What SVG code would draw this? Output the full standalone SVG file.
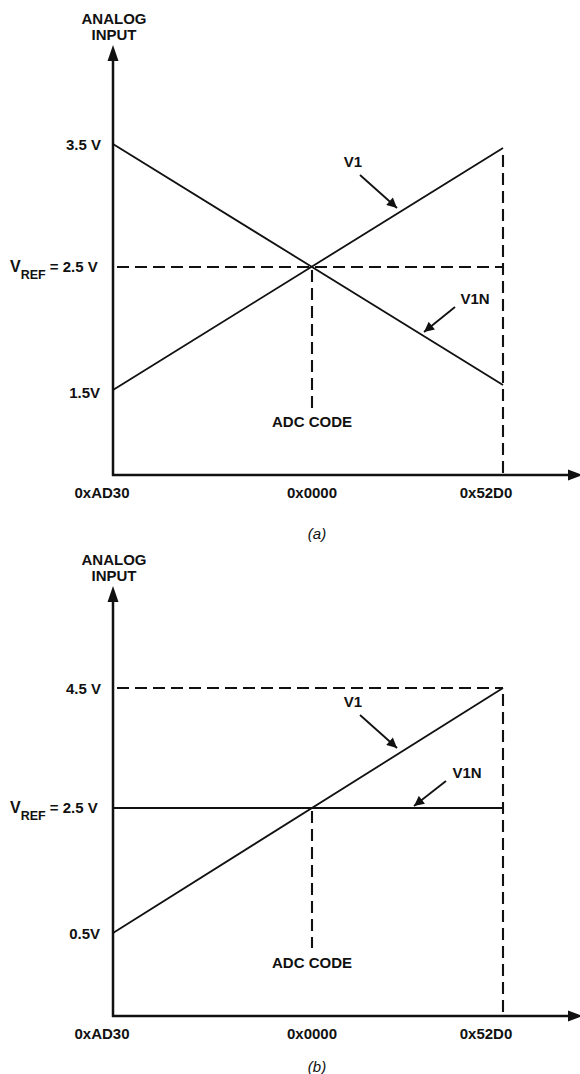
<svg xmlns="http://www.w3.org/2000/svg" width="580" height="1074" viewBox="0 0 580 1074">
<style>
text{font-family:"Liberation Sans",Arial,sans-serif;font-weight:bold;font-size:15px;fill:#111}
.c{text-anchor:middle}
.r{text-anchor:end}
.sub{font-size:12.5px}
.cap{font-weight:normal;font-style:italic}
.axis{stroke:#111;stroke-width:2.5;fill:none}
.ln{stroke:#111;stroke-width:1.8;fill:none}
.ds{stroke:#111;stroke-width:2.1;fill:none;stroke-dasharray:12 6}
.ah{fill:#111}
</style>
<defs>
<marker id="arr" viewBox="0 0 10 10" refX="10" refY="5" markerWidth="11" markerHeight="10" markerUnits="userSpaceOnUse" orient="auto">
<path d="M0,0 L10,5 L0,10 z" fill="#111"/>
</marker>
</defs>

<g id="chart-a">
 <g id="axes-a">
  <line class="axis" x1="113" y1="476" x2="113" y2="58"/>
  <polygon class="ah" points="113,45 107.5,61 118.5,61"/>
  <line class="axis" x1="112" y1="475" x2="570" y2="475"/>
  <polygon class="ah" points="583,475 568,469.5 568,480.5"/>
 </g>
 <g id="connectors-a">
  <line class="ds" x1="117" y1="267" x2="503" y2="267"/>
  <line class="ds" x1="312" y1="270" x2="312" y2="408"/>
  <line class="ds" x1="503" y1="155" x2="503" y2="474"/>
  <line class="ln" x1="113" y1="390" x2="503" y2="148"/>
  <line class="ln" x1="113" y1="144" x2="503" y2="385"/>
  <line class="ln" x1="360" y1="175" x2="397" y2="208" marker-end="url(#arr)"/>
  <line class="ln" x1="455" y1="307" x2="424" y2="332" marker-end="url(#arr)"/>
 </g>
 <g id="labels-a">
  <text class="c" x="114" y="23.5">ANALOG</text>
  <text class="c" x="114" y="39.5">INPUT</text>
  <text class="r" x="101" y="150">3.5 V</text>
  <text x="10" y="272"><tspan font-size="16">V</tspan><tspan class="sub" dy="7">REF</tspan><tspan dy="-7"> = 2.5 V</tspan></text>
  <text class="r" x="100" y="398">1.5V</text>
  <text class="c" x="312" y="427">ADC CODE</text>
  <text class="c" x="353" y="167">V1</text>
  <text class="c" x="475" y="304">V1N</text>
  <text class="c" x="102" y="498">0xAD30</text>
  <text class="c" x="312" y="498">0x0000</text>
  <text class="c" x="486" y="498">0x52D0</text>
  <text class="c cap" x="317" y="539">(a)</text>
 </g>
</g>

<g id="chart-b">
 <g id="axes-b">
  <line class="axis" x1="113" y1="1017" x2="113" y2="599"/>
  <polygon class="ah" points="113,586 107.5,602 118.5,602"/>
  <line class="axis" x1="112" y1="1016" x2="570" y2="1016"/>
  <polygon class="ah" points="583,1016 568,1010.5 568,1021.5"/>
 </g>
 <g id="connectors-b">
  <line class="ds" x1="117" y1="688" x2="503" y2="688"/>
  <line class="ds" x1="312" y1="811" x2="312" y2="948"/>
  <line class="ds" x1="503" y1="694" x2="503" y2="1015"/>
  <line class="ln" x1="113" y1="933" x2="503" y2="688"/>
  <line class="ln" x1="113" y1="808" x2="503" y2="808"/>
  <line class="ln" x1="360" y1="715" x2="397" y2="748" marker-end="url(#arr)"/>
  <line class="ln" x1="446" y1="781" x2="414" y2="806" marker-end="url(#arr)"/>
 </g>
 <g id="labels-b">
  <text class="c" x="114" y="564.5">ANALOG</text>
  <text class="c" x="114" y="580.5">INPUT</text>
  <text class="r" x="101" y="694">4.5 V</text>
  <text x="10" y="813"><tspan font-size="16">V</tspan><tspan class="sub" dy="7">REF</tspan><tspan dy="-7"> = 2.5 V</tspan></text>
  <text class="r" x="100" y="939">0.5V</text>
  <text class="c" x="312" y="968">ADC CODE</text>
  <text class="c" x="353" y="707">V1</text>
  <text class="c" x="467" y="778">V1N</text>
  <text class="c" x="102" y="1039">0xAD30</text>
  <text class="c" x="312" y="1039">0x0000</text>
  <text class="c" x="486" y="1039">0x52D0</text>
  <text class="c cap" x="317" y="1072">(b)</text>
 </g>
</g>
</svg>
